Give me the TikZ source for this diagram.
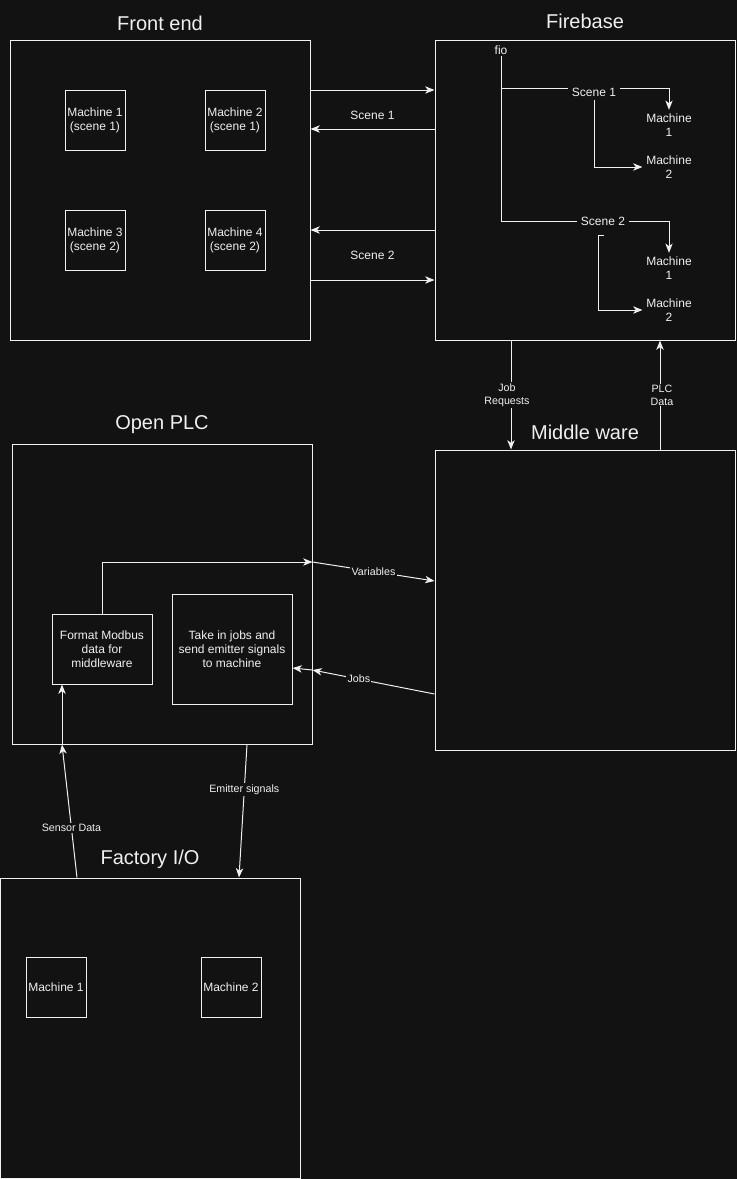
\documentclass[tikz,border=0pt]{standalone}
\usepackage{fontspec}
\setmainfont{Liberation Sans}
\usetikzlibrary{arrows.meta}
\definecolor{bg}{HTML}{121212}
\definecolor{fg}{HTML}{F0F0F0}

\begin{document}
\begin{tikzpicture}[x=0.75pt,y=-0.75pt,line width=0.75pt,color=fg,
    panel/.style={draw,minimum width=225pt,minimum height=225pt,inner sep=0pt},
    mbox/.style={draw,minimum width=45pt,minimum height=45pt,inner sep=0pt,align=center,font=\fontsize{9}{10.5}\selectfont},
    title/.style={font=\fontsize{15}{18}\selectfont},
    lbl/.style={font=\fontsize{9}{10.5}\selectfont,align=center,inner sep=2.5pt},
    tag/.style={font=\fontsize{8}{9.5}\selectfont,align=center,fill=bg,inner sep=1pt},
    link/.style={-{Stealth[length=7pt,width=5.5pt,inset=2pt]}}]
    \fill[bg] (0,0) rectangle (737,1179);
    \useasboundingbox (0,0) rectangle (737,1179);
    %Front end
    \node[panel] (front) at (160,190) {};
    \node[title] (fronttitle) at (160,23) {Front end};
    \node[mbox] (fe1) at (95,120) {Machine 1\\(scene 1)};
    \node[mbox] (fe2) at (235,120) {Machine 2\\(scene 1)};
    \node[mbox] (fe3) at (95,240) {Machine 3\\(scene 2)};
    \node[mbox] (fe4) at (235,240) {Machine 4\\(scene 2)};
    %Firebase
    \node[panel] (fire) at (585,190) {};
    \node[title] (firetitle) at (585,21) {Firebase};
    \node[lbl,inner sep=1pt] (fio) at (501,50) {fio};
    \node[lbl] (s1) at (594,92) {Scene 1};
    \node[lbl] (s2) at (603,221) {Scene 2};
    \node[lbl] (fb11) at (669,125) {Machine\\1};
    \node[lbl] (fb12) at (669,167) {Machine\\2};
    \node[lbl] (fb21) at (669,268) {Machine\\1};
    \node[lbl] (fb22) at (669,310) {Machine\\2};
    \draw (fio.south) |- (s2.west);
    \draw (fio.south |- 0,88) -- (s1.west |- 0,88);
    \draw[link] (s1.east |- 0,88) -| (fb11.north);
    \draw[link] (s1.south) |- (fb12.west);
    \draw[link] (s2.east) -| (fb21.north);
    \draw[link] (s2.south) ++(1,6) -- ++(-6,0) |- (fb22.west);
    %
    \draw[link] (front.east |- 0,90) -- (fire.west |- 0,90);
    \draw[link] (fire.west |- 0,129) -- node[lbl,midway,yshift=10.5pt] {Scene 1} (front.east |- 0,129);
    \draw[link] (fire.west |- 0,230) -- (front.east |- 0,230);
    \draw[link] (front.east |- 0,280) -- node[lbl,midway,yshift=18.75pt] {Scene 2} (fire.west |- 0,280);
    %Middle ware
    \node[panel] (mid) at (585,600) {};
    \node[title] (midtitle) at (585,432) {Middle ware};
    \draw[link] (fire.south -| 511,0) -- node[tag,xshift=-3pt] {Job\\Requests} (mid.north -| 511,0);
    \draw[link] (mid.north -| 660,0) -- node[tag,xshift=1.5pt] {PLC\\Data} (fire.south -| 660,0);
    %Open PLC
    \node[panel] (plc) at (162,594) {};
    \node[title] (plctitle) at (162,425) {Open PLC};
    \node[draw,lbl,minimum width=75pt,minimum height=52.5pt] (fmt) at (102,649) {Format Modbus\\data for\\middleware};
    \node[draw,lbl,minimum width=90pt,minimum height=82.5pt] (jobs) at (232,649) {Take in jobs and\\send emitter signals\\to machine};
    \draw[link] (fmt.north) |- (plc.east |- 0,562);
    \draw[link] (plc.east |- 0,562) -- node[tag] {Variables} (mid.west |- 0,581);
    \draw[link] (mid.west |- 0,694) -- node[tag,pos=0.62] {Jobs} (plc.east |- 0,670);
    \draw[link] (plc.east |- 0,670) -- (jobs.east |- 0,668);
    %Factory I/O
    \node[panel] (fac) at (150.5,1028) {};
    \node[title] (factitle) at (150,859) {Factory I/O};
    \node[mbox] (fm1) at (56,987) {Machine 1};
    \node[mbox] (fm2) at (231,987) {Machine 2};
    \draw[link] (fac.north -| 77,0) -- node[tag,pos=0.37] {Sensor Data} (plc.south -| 62,0);
    \draw[link] (plc.south -| 62,0) -- (fmt.south -| 62,0);
    \draw[link] (plc.south -| 247,0) -- node[tag,pos=0.34] {Emitter signals} (fac.north -| 239,0);
\end{tikzpicture}
\end{document}
